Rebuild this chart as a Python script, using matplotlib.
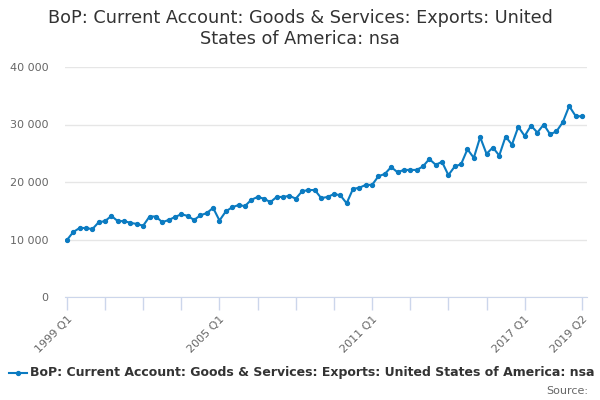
import matplotlib
matplotlib.use("Agg")
import matplotlib.pyplot as plt
from matplotlib.lines import Line2D
from matplotlib.ticker import FuncFormatter

# quarterly values, 1999 Q1 .. 2019 Q2 (GBP million)
values = [
    9900, 11300, 12000, 12000, 11800, 13000, 13200, 14100,
    13200, 13200, 12900, 12700, 12400, 14000, 14000, 13000,
    13400, 13900, 14400, 14100, 13400, 14200, 14600, 15500,
    13300, 14900, 15600, 16000, 15800, 16900, 17400, 17100,
    16500, 17400, 17400, 17600, 17100, 18400, 18600, 18600,
    17200, 17400, 17900, 17700, 16300, 18800, 19000, 19500,
    19500, 21000, 21400, 22600, 21700, 22100, 22100, 22100,
    22700, 24000, 23000, 23500, 21200, 22700, 23100, 25700,
    24200, 27800, 24900, 26000, 24600, 27900, 26500, 29600,
    28000, 29800, 28600, 30000, 28300, 28800, 30400, 33200,
    31500, 31400,
]
quarters = [f"{1999 + i // 4} Q{i % 4 + 1}" for i in range(len(values))]
label_quarters = ["1999 Q1", "2005 Q1", "2011 Q1", "2017 Q1", "2019 Q2"]
series_name = "BoP: Current Account: Goods & Services: Exports: United States of America: nsa"

line_col = "#0b7bc1"
text_col = "#666666"

fig = plt.figure(figsize=(6, 4), dpi=100)
ax = fig.add_axes([0.1083, 0.2575, 0.8700, 0.575])

x = list(range(len(values)))
ax.plot(x, values, color=line_col, lw=1.5, marker="o", ms=2.8, zorder=3)

ax.set_ylim(0, 40000)
ax.set_xlim(-0.3, len(values) - 1 + 0.8)
ax.set_yticks([0, 10000, 20000, 30000, 40000])
ax.yaxis.set_major_formatter(FuncFormatter(lambda v, p: f"{int(v):,}".replace(",", " ")))
ax.grid(axis="y", color="#e6e6e6", lw=1)
ax.set_axisbelow(True)

# ticks every 6 quarters up to 2017 Q1, then the last quarter
tick_pos = list(range(0, len(values) - 6, 6)) + [len(values) - 1]
ax.set_xticks(tick_pos)
ax.set_xticklabels([quarters[i] if quarters[i] in label_quarters else "" for i in tick_pos],
                   rotation=45, ha="right", va="top", rotation_mode="anchor")
ax.tick_params(axis="x", length=9, width=1, color="#ccd6eb", labelsize=8, labelcolor=text_col, pad=3)
ax.tick_params(axis="y", length=0, labelsize=8, labelcolor=text_col, pad=12)

for s in ["top", "right", "left"]:
    ax.spines[s].set_visible(False)
ax.spines["bottom"].set_color("#ccd6eb")

fig.text(0.5, 0.977, "BoP: Current Account: Goods & Services: Exports: United\nStates of America: nsa",
         ha="center", va="top", fontsize=12.7, color="#333333", linespacing=1.2)

# legend
fig.add_artist(Line2D([0.015, 0.030, 0.045], [0.068, 0.068, 0.068], color=line_col, lw=1.5,
                      marker="o", ms=2.8, markevery=[1], transform=fig.transFigure))
fig.text(0.05, 0.068, series_name, ha="left", va="center", fontsize=9,
         fontweight="bold", color="#333333")
fig.text(0.98, 0.022, "Source:", ha="right", va="center", fontsize=8, color=text_col)

fig.savefig("out.png", dpi=100)
